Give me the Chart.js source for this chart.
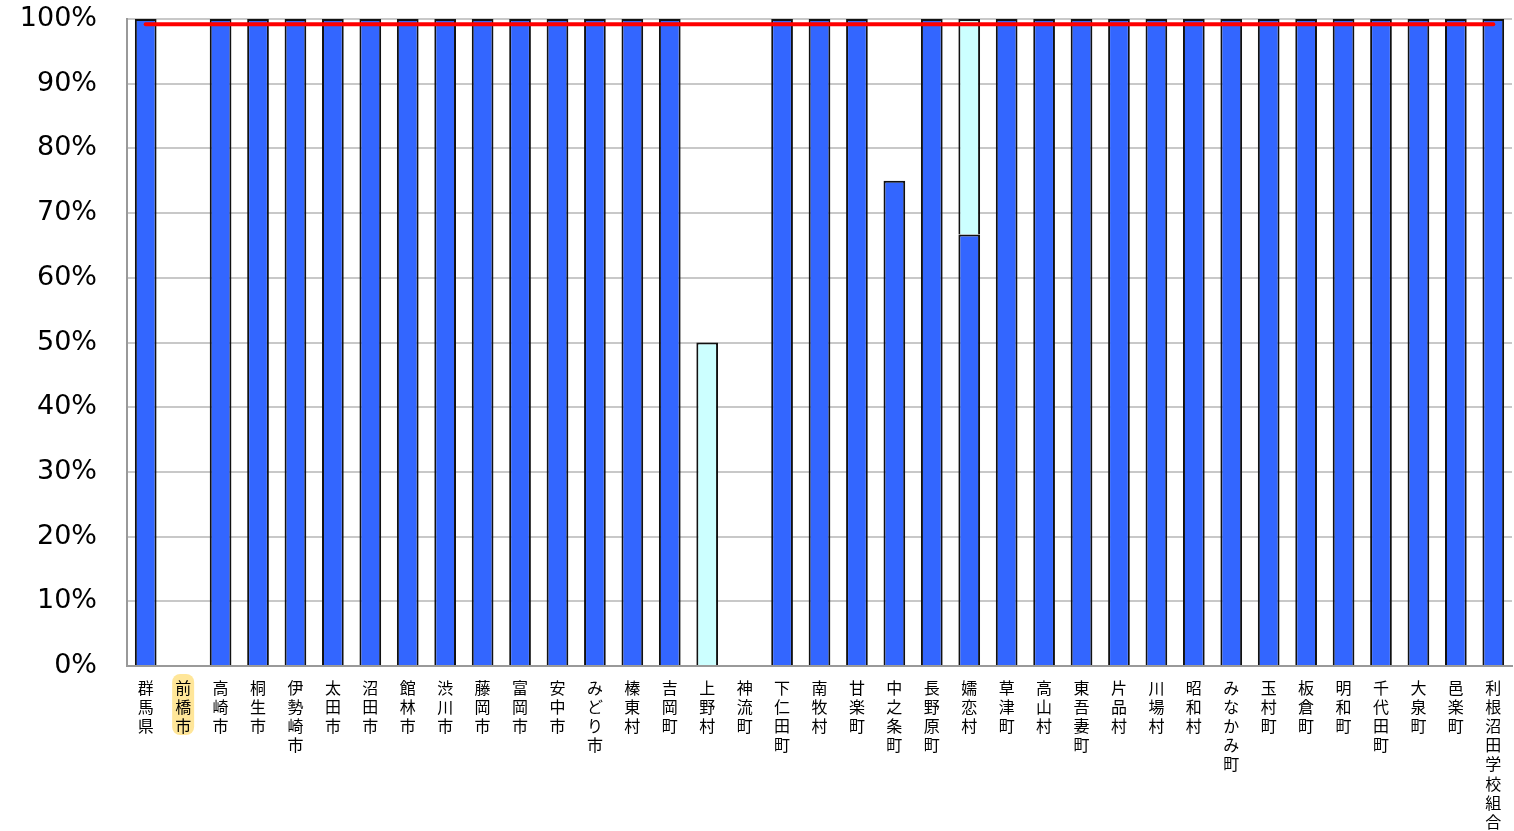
<!DOCTYPE html>
<html><head><meta charset="utf-8">
<script src="https://cdn.jsdelivr.net/npm/chart.js@4/dist/chart.umd.min.js"></script>
<style>html,body{margin:0;padding:0;background:#fff}#w{width:1514px;height:831px}</style>
</head><body><div id="w"><canvas id="c"></canvas></div>
<script>
const categories=["群馬県","前橋市","高崎市","桐生市","伊勢崎市","太田市","沼田市","館林市","渋川市","藤岡市","富岡市","安中市","みどり市","榛東村","吉岡町","上野村","神流町","下仁田町","南牧村","甘楽町","中之条町","長野原町","嬬恋村","草津町","高山村","東吾妻町","片品村","川場村","昭和村","みなかみ町","玉村町","板倉町","明和町","千代田町","大泉町","邑楽町","利根沼田学校組合"];
const blueValues=[100,0,100,100,100,100,100,100,100,100,100,100,100,100,100,0,0,100,100,100,75,100,66.7,100,100,100,100,100,100,100,100,100,100,100,100,100,100];
const cyanValues=[0,0,0,0,0,0,0,0,0,0,0,0,0,0,0,50,0,0,0,0,0,0,33.3,0,0,0,0,0,0,0,0,0,0,0,0,0,0];
const lineValue=99.2;
const lineValues=categories.map(()=>lineValue);
const highlightIndex=1;
const hl={id:'hl',afterDraw(ch){const x=ch.scales.x;const ctx=ch.ctx;const px=x.getPixelForTick(highlightIndex);const n=[...categories[highlightIndex]].length;ctx.save();ctx.globalCompositeOperation='destination-over';ctx.fillStyle='#ffe699';const top=x.top+8,h=n*19+4;ctx.beginPath();ctx.roundRect(px-11,top,22,h,8);ctx.fill();ctx.restore();}};
new Chart(document.getElementById('c'),{
data:{labels:categories.map(s=>[...s]),datasets:[
{type:'line',data:lineValues,borderColor:'#ff0000',borderWidth:4,pointRadius:0,order:0,borderCapStyle:'round'},
{type:'bar',data:blueValues.map(v=>v||null),backgroundColor:'#3366ff',borderColor:'#111',borderWidth:2,stack:'s',order:1,barPercentage:0.58,categoryPercentage:1},
{type:'bar',data:cyanValues.map(v=>v||null),backgroundColor:'#ccffff',borderColor:'#111',borderWidth:2,stack:'s',order:1,barPercentage:0.58,categoryPercentage:1}
]},
options:{responsive:true,maintainAspectRatio:false,animation:false,
layout:{padding:{left:0,right:2,top:0,bottom:0}},
plugins:{legend:{display:false},tooltip:{enabled:false}},
scales:{x:{stacked:true,afterFit:s=>{s.height=165;s.paddingTop=0;s.paddingBottom=0;s.paddingLeft=0;s.paddingRight=0},grid:{display:false,drawTicks:true},border:{color:'#999',width:2},ticks:{maxRotation:0,minRotation:0,autoSkip:false,color:'#000',font:{family:'"Noto Sans CJK JP"',size:16,lineHeight:1.2},padding:4}},
y:{stacked:true,min:0,max:100,afterFit:s=>{s.width=127;s.paddingTop=19;s.paddingBottom=0},ticks:{stepSize:10,callback:v=>v+'%',color:'#000',font:{family:'"DejaVu Sans"',size:27},padding:30},grid:{color:'#c8c8c8',lineWidth:2,drawTicks:false},border:{color:'#999',width:2}}}},
plugins:[hl]});
</script></body></html>
